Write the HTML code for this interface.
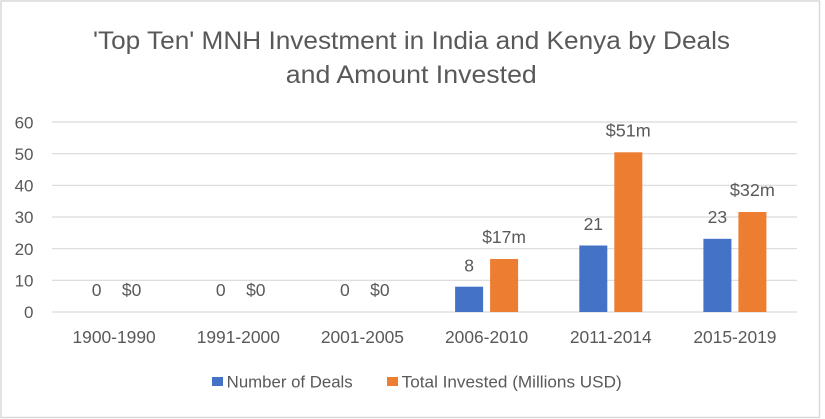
<!DOCTYPE html>
<html>
<head>
<meta charset="utf-8">
<style>
html,body{margin:0;padding:0;background:#fff;}
svg{display:block;}
text{font-family:"Liberation Sans",sans-serif;fill:#595959;}
</style>
</head>
<body>
<svg width="825" height="419" viewBox="0 0 825 419" xmlns="http://www.w3.org/2000/svg">
<rect x="0" y="0" width="825" height="419" fill="#fff"/>
<rect x="1" y="1" width="818.5" height="416.5" fill="none" stroke="#d9d9d9" stroke-width="1.5"/>

<!-- title -->
<text x="411.5" y="49" font-size="25" text-anchor="middle" textLength="637" lengthAdjust="spacingAndGlyphs">'Top Ten' MNH Investment in India and Kenya by Deals</text>
<text x="411.3" y="83" font-size="25" text-anchor="middle" textLength="251" lengthAdjust="spacingAndGlyphs">and Amount Invested</text>

<!-- gridlines -->
<g stroke="#d9d9d9" stroke-width="1.2">
<line x1="52" y1="122" x2="797" y2="122"/>
<line x1="52" y1="153.7" x2="797" y2="153.7"/>
<line x1="52" y1="185.3" x2="797" y2="185.3"/>
<line x1="52" y1="217" x2="797" y2="217"/>
<line x1="52" y1="248.7" x2="797" y2="248.7"/>
<line x1="52" y1="280.3" x2="797" y2="280.3"/>
<line x1="52" y1="312" x2="797" y2="312"/>
</g>

<!-- y ticks -->
<g font-size="17" text-anchor="end">
<text x="33.5" y="128.5">60</text>
<text x="33.5" y="160">50</text>
<text x="33.5" y="191.5">40</text>
<text x="33.5" y="223">30</text>
<text x="33.5" y="255">20</text>
<text x="33.5" y="286.5">10</text>
<text x="33.5" y="318">0</text>
</g>

<!-- bars -->
<g fill="#4472c4">
<rect x="455.1" y="286.7" width="28" height="25.3"/>
<rect x="579.3" y="245.5" width="28" height="66.5"/>
<rect x="703.4" y="238.8" width="28" height="73.2"/>
</g>
<g fill="#ed7d31">
<rect x="490.1" y="259" width="28" height="53"/>
<rect x="614.3" y="152.3" width="28" height="159.7"/>
<rect x="738.4" y="212" width="28" height="100"/>
</g>

<!-- data labels -->
<g font-size="17.5" text-anchor="middle">
<text x="96.6" y="296">0</text>
<text x="131.6" y="296">$0</text>
<text x="220.8" y="296">0</text>
<text x="255.8" y="296">$0</text>
<text x="344.9" y="296">0</text>
<text x="379.9" y="296">$0</text>
<text x="469.1" y="271.5">8</text>
<text x="504.1" y="243">$17m</text>
<text x="593.3" y="230">21</text>
<text x="628.3" y="136.3" textLength="45" lengthAdjust="spacingAndGlyphs">$51m</text>
<text x="717.4" y="223">23</text>
<text x="752.4" y="196" textLength="45" lengthAdjust="spacingAndGlyphs">$32m</text>
</g>

<!-- category labels -->
<g font-size="17.4" text-anchor="middle">
<text x="114.1" y="343">1900-1990</text>
<text x="238.3" y="343">1991-2000</text>
<text x="362.4" y="343">2001-2005</text>
<text x="486.6" y="343">2006-2010</text>
<text x="610.8" y="343">2011-2014</text>
<text x="734.9" y="343">2015-2019</text>
</g>

<!-- legend -->
<rect x="212" y="377" width="11" height="9" fill="#4472c4"/>
<text x="226.7" y="387.5" font-size="16.5" textLength="126" lengthAdjust="spacingAndGlyphs">Number of Deals</text>
<rect x="387" y="377" width="11" height="9" fill="#ed7d31"/>
<text x="401.7" y="387.5" font-size="16.5" textLength="220" lengthAdjust="spacingAndGlyphs">Total Invested (Millions USD)</text>
</svg>
</body>
</html>
